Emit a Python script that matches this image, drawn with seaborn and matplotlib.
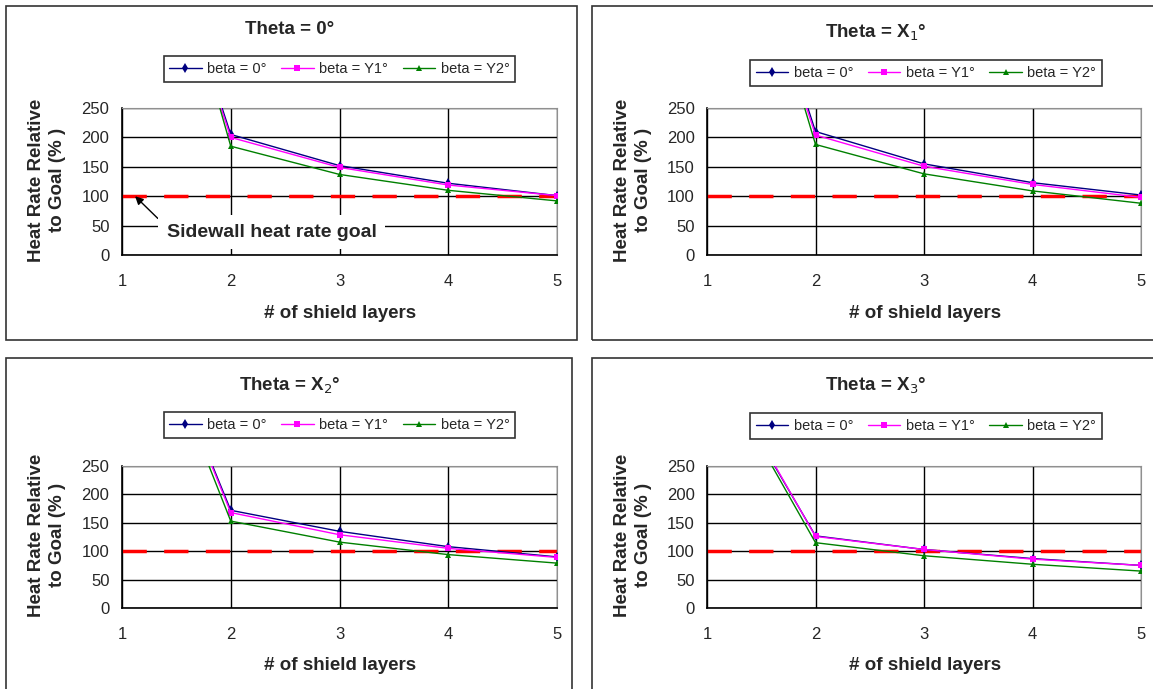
import pandas as pd
import seaborn as sns
import matplotlib.pyplot as plt
from matplotlib.patches import Rectangle

layers = [1, 2, 3, 4, 5]
series = ['beta = 0°', 'beta = Y1°', 'beta = Y2°']
titles = ['Theta = 0°', 'Theta = X$_1$°', 'Theta = X$_2$°', 'Theta = X$_3$°']

# heat rate relative to goal (%) per panel, per beta series
tl_vals = [[770, 205, 152, 122, 101], [760, 200, 149, 119, 101], [835, 185, 137, 110, 92]]
tr_vals = [[780, 210, 155, 123, 102], [770, 204, 151, 120, 98], [808, 188, 138, 109, 88]]
bl_vals = [[640, 172, 135, 108, 90], [640, 168, 129, 105, 89], [638, 153, 116, 94, 79]]
br_vals = [[454, 127, 103, 87, 75], [460, 126, 103, 86, 75], [452, 115, 92, 77, 65]]
goal = 100

W, H = 1153, 689
sns.set_style('white')
plt.rcParams['font.family'] = ['Liberation Sans', 'DejaVu Sans']

colors = {'beta = 0°': '#000080', 'beta = Y1°': '#FF00FF', 'beta = Y2°': '#008000'}
marks = {'beta = 0°': 'd', 'beta = Y1°': 's', 'beta = Y2°': '^'}

fig = plt.figure(figsize=(W / 100, H / 100), dpi=100)

# pixel layout: axes (x1, x5, ytop, ybottom), frame, title, xlabel, ylabel, legend center
panels = [
    dict(vals=tl_vals, ax=(122, 557, 108, 255), frame=(6, 6, 577, 340), title=(290, 29),
         xl=(340, 313), yl=(47, 180), leg=(0.5, 1.265)),
    dict(vals=tr_vals, ax=(707, 1141, 108, 255), frame=(592, 6, 1160, 340), title=(876, 33),
         xl=(925, 313), yl=(633, 180), leg=(0.505, 1.238)),
    dict(vals=bl_vals, ax=(122, 557, 466, 608), frame=(6, 358, 572, 700), title=(290, 386),
         xl=(340, 666), yl=(47, 535), leg=(0.5, 1.289)),
    dict(vals=br_vals, ax=(707, 1141, 466, 608), frame=(592, 358, 1160, 700), title=(876, 386),
         xl=(925, 666), yl=(633, 535), leg=(0.505, 1.282)),
]

for i, p in enumerate(panels):
    fx0, fy0, fx1, fy1 = p['frame']
    fig.patches.append(Rectangle((fx0 / W, 1 - fy1 / H), (fx1 - fx0) / W, (fy1 - fy0) / H,
                                 transform=fig.transFigure, fill=False, edgecolor='#333333', lw=1.2))

    x0, x1, yt, yb = p['ax']
    ax = fig.add_axes([x0 / W, 1 - yb / H, (x1 - x0) / W, (yb - yt) / H])

    rows = []
    for s, v in zip(series, p['vals']):
        for x, y in zip(layers, v):
            rows.append({'layers': x, 'rate': y, 'series': s})
    df = pd.DataFrame(rows)

    sns.lineplot(data=df, x='layers', y='rate', hue='series', style='series',
                 palette=colors, markers=marks, dashes=False, ax=ax,
                 lw=1, markersize=5, markeredgewidth=0, zorder=3)
    ax.plot([1, 5], [goal, goal], color='#FF0000', lw=2.5, dashes=(7, 5), zorder=2.5)

    ax.set_xlim(1, 5)
    ax.set_ylim(0, 250)
    ax.set_xticks(layers)
    ax.set_yticks([0, 50, 100, 150, 200, 250])
    ax.grid(True, color='black', lw=1)
    ax.set_axisbelow(True)
    for side in ['top', 'right']:
        ax.spines[side].set_color('#909090')
    for side in ['left', 'bottom']:
        ax.spines[side].set_color('black')
        ax.spines[side].set_linewidth(1.2)
    ax.tick_params(axis='both', direction='out', length=5, width=1, color='black', labelsize=12)
    ax.tick_params(axis='x', pad=9)
    ax.tick_params(axis='y', pad=4)
    ax.set_xlabel('')
    ax.set_ylabel('')

    sns.move_legend(ax, 'center', bbox_to_anchor=p['leg'], ncol=3, title=None, frameon=True,
                    fontsize=10.5, handlelength=2.2, columnspacing=1.0, handletextpad=0.4,
                    borderpad=0.4, fancybox=False, edgecolor='black')
    ax.get_legend().get_frame().set_linewidth(1.2)

    fig.text(p['title'][0] / W, 1 - p['title'][1] / H, titles[i], ha='center', va='center',
             fontsize=13.5, fontweight='bold')
    fig.text(p['xl'][0] / W, 1 - p['xl'][1] / H, '# of shield layers', ha='center', va='center',
             fontsize=13.5, fontweight='bold')
    fig.text(p['yl'][0] / W, 1 - p['yl'][1] / H, 'Heat Rate Relative\nto Goal (% )', ha='center',
             va='center', rotation=90, fontsize=13.5, fontweight='bold', linespacing=1.35)

    if i == 0:
        ax.annotate('Sidewall heat rate goal', xy=(1.12, 100), xytext=(1.41, 39),
                    ha='left', va='center', fontsize=14, fontweight='bold', zorder=5,
                    bbox=dict(boxstyle='square,pad=0.45', fc='white', ec='none'),
                    arrowprops=dict(arrowstyle='-|>', color='black', lw=1, relpos=(0, 0.8),
                                    shrinkA=0, shrinkB=0, mutation_scale=12))

fig.savefig('out.png', dpi=100)
